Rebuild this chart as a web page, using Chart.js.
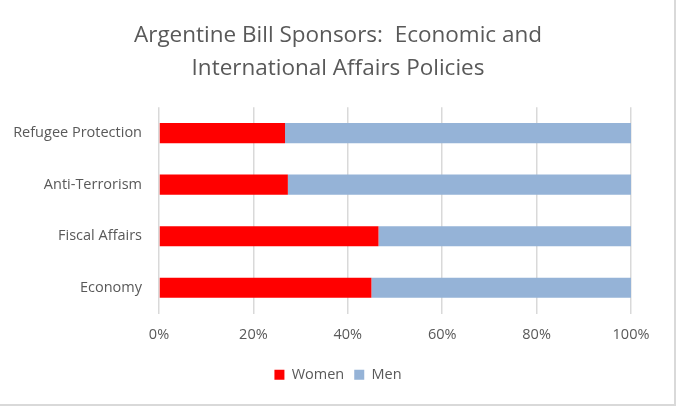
<!DOCTYPE html>
<html>
<head>
<meta charset="utf-8">
<script src="https://cdn.jsdelivr.net/npm/chart.js@4"></script>
<style>
html,body{margin:0;padding:0;background:#fff;}
#wrap{width:679px;height:407px;position:relative;}
</style>
</head>
<body>
<div id="wrap"><canvas id="c" width="679" height="407"></canvas></div>
<script>
const categories = ["Refugee Protection", "Anti-Terrorism", "Fiscal Affairs", "Economy"];
const women = [26.7, 27.3, 46.5, 45.0];
const men = [73.3, 72.7, 53.5, 55.0];
const xTicks = [0, 20, 40, 60, 80, 100];

const FONT = "'Open Sans', Lato, sans-serif";
const GREY = "#595959";

const frame = {
  id: 'frame',
  beforeDraw(chart) {
    const ctx = chart.ctx;
    ctx.save();
    ctx.fillStyle = '#fff';
    ctx.fillRect(0, 0, chart.width, chart.height);
    ctx.strokeStyle = '#d9d9d9';
    ctx.lineWidth = 2;
    ctx.strokeRect(-1, -1, 676, 406);
    ctx.restore();
  }
};

new Chart(document.getElementById('c'), {
  type: 'bar',
  data: {
    labels: categories,
    datasets: [
      { label: 'Women', data: women, backgroundColor: '#FF0000', barPercentage: 0.39, categoryPercentage: 1.0 },
      { label: 'Men', data: men, backgroundColor: '#95B3D7', barPercentage: 0.39, categoryPercentage: 1.0 }
    ]
  },
  options: {
    indexAxis: 'y',
    responsive: false,
    animation: false,
    devicePixelRatio: 1,
    layout: { padding: { left: 0, right: 3, top: 0, bottom: 15 } },
    plugins: {
      title: {
        display: true,
        text: ["Argentine Bill Sponsors:  Economic and", "International Affairs Policies"],
        color: GREY,
        font: { family: FONT, size: 22.5, weight: 'normal', lineHeight: 1.43 },
        padding: { top: 20, bottom: 23 }
      },
      legend: {
        position: 'bottom',
        labels: {
          color: GREY,
          font: { family: FONT, size: 14.5 },
          boxWidth: 10, boxHeight: 10,
          padding: 10
        }
      },
      tooltip: { enabled: false }
    },
    scales: {
      x: {
        stacked: true,
        min: 0, max: 100,
        afterBuildTicks(scale) { scale.ticks = xTicks.map(v => ({ value: v })); },
        ticks: {
          color: GREY,
          font: { family: FONT, size: 14.5 },
          padding: 13,
          callback: v => v + '%'
        },
        grid: { color: '#d9d9d9', drawTicks: false, lineWidth: 1.5 },
        border: { display: false },
        afterFit(scale) { scale.height = 44; }
      },
      y: {
        stacked: true,
        ticks: {
          color: GREY,
          font: { family: FONT, size: 14.5 },
          padding: 17
        },
        grid: { display: false, drawTicks: false },
        border: { display: false },
        afterFit(scale) { scale.width = 159; }
      },
      spacer: {
        type: 'linear',
        axis: 'y',
        position: 'right',
        display: true,
        ticks: { display: false },
        grid: { display: false, drawTicks: false },
        border: { display: false },
        afterFit(scale) { scale.width = 45; }
      }
    }
  },
  plugins: [frame]
});
</script>
</body>
</html>
